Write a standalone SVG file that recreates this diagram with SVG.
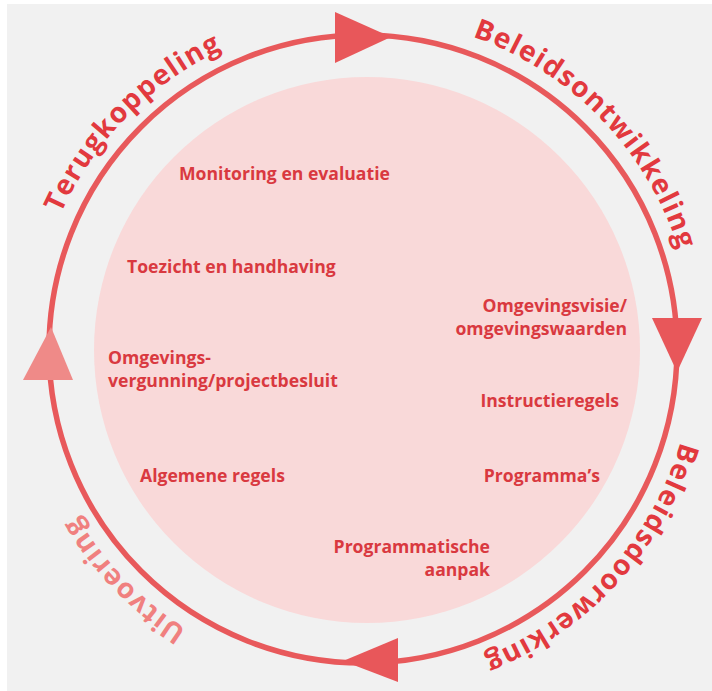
<svg xmlns="http://www.w3.org/2000/svg" xmlns:xlink="http://www.w3.org/1999/xlink" width="712" height="691" viewBox="0 0 712 691">
<style>
.arc{font-family:"Open Sans",Lato,"Liberation Sans",sans-serif;font-weight:bold;font-size:28px;letter-spacing:1.3px;fill:#e2393e}
.arc.light{fill:#f0807f}
.in{font-family:"Open Sans",Lato,"Liberation Sans",sans-serif;font-weight:bold;font-size:17.6px;fill:#d93940}
.ring{fill:none;stroke:#e8595b;stroke-width:5.5}
.head{fill:#e8575a}
.head.light{fill:#ef8a88}
</style>
<defs>
<path id="pT" d="M 111.3 563.9 A 331 331 0 0 1 573.6 93.6"/>
<path id="pB1" d="M 154.7 91.8 A 331 331 0 0 1 612.8 566.2"/>
<path id="pB2" d="M 607.0 125.4 A 331 331 0 0 1 161.5 611.6"/>
<path id="pU" d="M 571.3 606.2 A 331 331 0 0 1 113.2 131.8"/>
</defs>
<rect x="0" y="0" width="712" height="691" fill="#ffffff"/>
<rect x="7" y="4" width="705" height="687" fill="#f1f1f1"/>
<g id="core">
<circle cx="367" cy="350" r="273" fill="#f9d9d9"/>
</g>
<g id="connectors">
<circle class="ring" cx="363" cy="349" r="314"/>
<polygon class="head" points="335,12 335,63 391,37"/>
<polygon class="head" points="652,318 702,318 677,372"/>
<polygon class="head" points="398,638 398,682 343,661"/>
<polygon class="head light" points="23,380 73,380 51,327"/>
</g>
<g id="phase-terugkoppeling"><text class="arc"><textPath xlink:href="#pT" href="#pT" startOffset="50%" text-anchor="middle">Terugkoppeling</textPath></text></g>
<g id="phase-beleidsontwikkeling"><text class="arc"><textPath xlink:href="#pB1" href="#pB1" startOffset="50%" text-anchor="middle">Beleidsontwikkeling</textPath></text></g>
<g id="phase-beleidsdoorwerking"><text class="arc"><textPath xlink:href="#pB2" href="#pB2" startOffset="50%" text-anchor="middle">Beleidsdoorwerking</textPath></text></g>
<g id="phase-uitvoering"><text class="arc light"><textPath xlink:href="#pU" href="#pU" startOffset="50%" text-anchor="middle">Uitvoering</textPath></text></g>
<g id="item-monitoring"><text class="in" x="179" y="180">Monitoring en evaluatie</text></g>
<g id="item-toezicht"><text class="in" x="127" y="273">Toezicht en handhaving</text></g>
<g id="item-omgevingsvergunning"><text class="in" x="108" y="364">Omgevings-</text><text class="in" x="108" y="387">vergunning/projectbesluit</text></g>
<g id="item-algemene-regels"><text class="in" x="140" y="482">Algemene regels</text></g>
<g id="item-omgevingsvisie"><text class="in" x="627" y="312" text-anchor="end">Omgevingsvisie/</text><text class="in" x="627" y="335" text-anchor="end">omgevingswaarden</text></g>
<g id="item-instructieregels"><text class="in" x="619" y="407" text-anchor="end">Instructieregels</text></g>
<g id="item-programmas"><text class="in" x="600" y="482" text-anchor="end">Programma’s</text></g>
<g id="item-programmatische-aanpak"><text class="in" x="490" y="553" text-anchor="end">Programmatische</text><text class="in" x="490" y="576" text-anchor="end">aanpak</text></g>
</svg>
